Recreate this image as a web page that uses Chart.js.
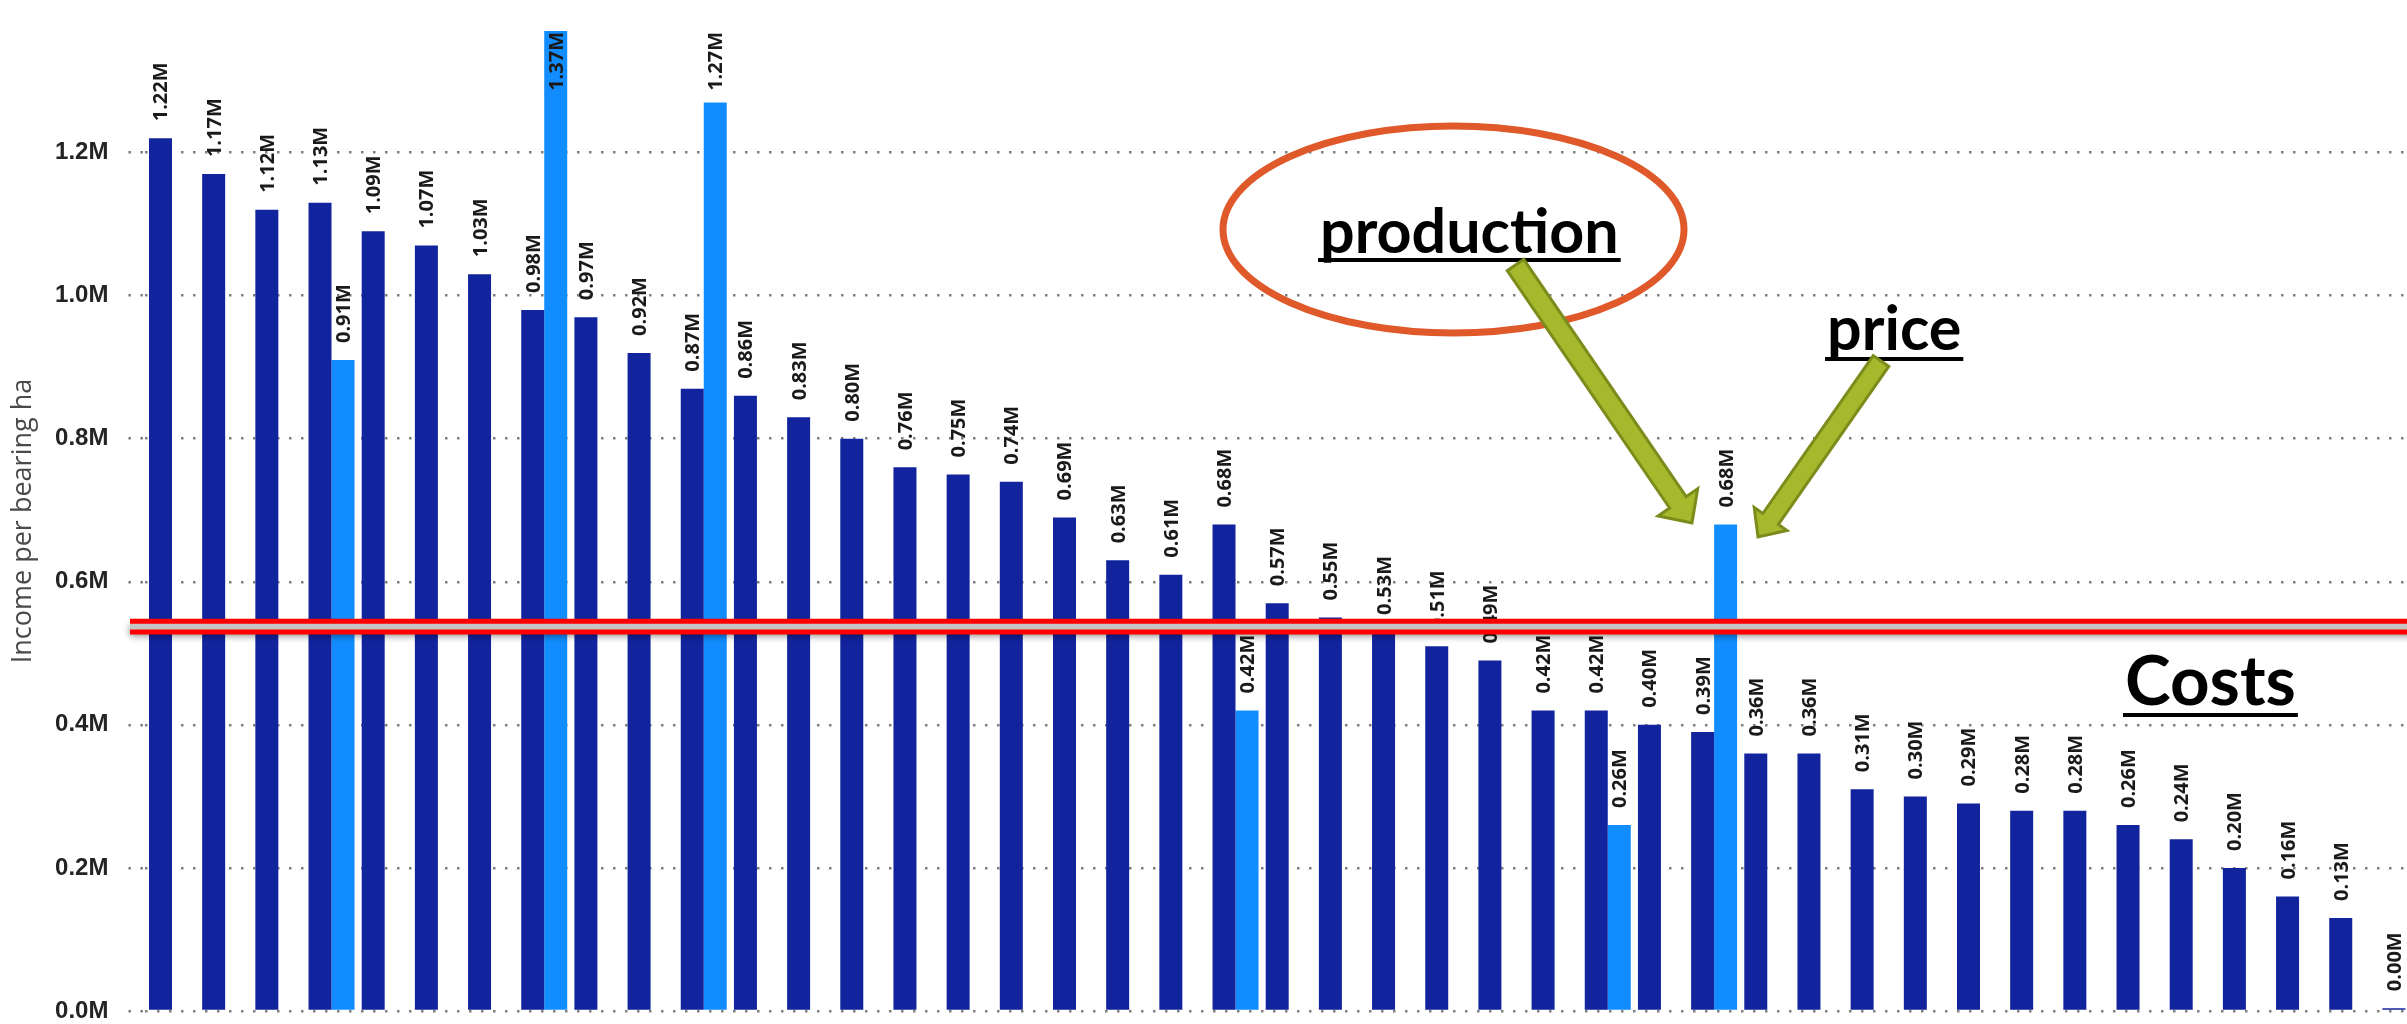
<!DOCTYPE html>
<html lang="en">
<head>
<meta charset="UTF-8">
<title>Income per bearing ha</title>
<script src="https://cdn.jsdelivr.net/npm/chart.js"></script>
<style>
  html, body { margin: 0; padding: 0; background: #fff; overflow: hidden; }
  /* the plot runs a little past the right edge of the screenshot */
  #wrap { position: relative; width: 2432px; height: 1024px; }
</style>
</head>
<body>
<div id="wrap"><canvas id="incomeChart"></canvas></div>
<script>
// income per bearing ha, in millions, farms sorted (names are cut off in the picture)
const income = [1.22, 1.17, 1.12, 1.13, 1.09, 1.07, 1.03, 0.98, 0.97, 0.92,
                0.87, 0.86, 0.83, 0.80, 0.76, 0.75, 0.74, 0.69, 0.63, 0.61,
                0.68, 0.57, 0.55, 0.53, 0.51, 0.49, 0.42, 0.42, 0.40, 0.39,
                0.36, 0.36, 0.31, 0.30, 0.29, 0.28, 0.28, 0.26, 0.24, 0.20,
                0.16, 0.13, 0.004];
// second (light blue) column, only for a few farms
const incomeAlt = [null, null, null, 0.91, null, null, null, 1.37, null, null,
                   1.27, null, null, null, null, null, null, null, null, null,
                   0.42, null, null, null, null, null, null, 0.26, null, 0.68,
                   null, null, null, null, null, null, null, null, null, null,
                   null, null, null];
const farms = income.map((_, i) => 'Farm ' + (i + 1));
const yTicks = [0, 0.2, 0.4, 0.6, 0.8, 1.0, 1.2];
const costBand = [0.530, 0.545]; // the red "Costs" line

const fmtM = v => v.toFixed(2) + 'M';

// value labels, rotated, above each bar (kept inside the plot at the top)
const barLabels = {
  id: 'barLabels',
  afterDatasetsDraw(chart) {
    const { ctx, chartArea } = chart;
    ctx.save();
    ctx.font = 'bold 20px "Open Sans", "Noto Sans", sans-serif';
    ctx.fillStyle = '#1b1a19';
    ctx.textAlign = 'left';
    ctx.textBaseline = 'alphabetic';
    chart.data.datasets.forEach((ds, di) => {
      chart.getDatasetMeta(di).data.forEach((bar, i) => {
        const v = ds.data[i];
        if (v == null) return;
        const txt = fmtM(v);
        const w = ctx.measureText(txt).width;
        let start = bar.y - 17;
        if (start - w < chartArea.top + 1) start = chartArea.top + 1 + w;
        ctx.save();
        ctx.translate(bar.x + 7, start);
        ctx.rotate(-Math.PI / 2);
        ctx.fillText(txt, 0, 0);
        ctx.restore();
      });
    });
    ctx.restore();
  }
};

function blockArrow(ctx, x0, y0, x1, y1, sw, hw, hl) {
  const len = Math.hypot(x1 - x0, y1 - y0);
  const dx = (x1 - x0) / len, dy = (y1 - y0) / len;
  const px = -dy, py = dx;
  const bx = x1 - dx * hl, by = y1 - dy * hl;
  ctx.beginPath();
  ctx.moveTo(x0 + px * sw / 2, y0 + py * sw / 2);
  ctx.lineTo(bx + px * sw / 2, by + py * sw / 2);
  ctx.lineTo(bx + px * hw / 2, by + py * hw / 2);
  ctx.lineTo(x1, y1);
  ctx.lineTo(bx - px * hw / 2, by - py * hw / 2);
  ctx.lineTo(bx - px * sw / 2, by - py * sw / 2);
  ctx.lineTo(x0 - px * sw / 2, y0 - py * sw / 2);
  ctx.closePath();
  ctx.fillStyle = '#a6b82b';
  ctx.fill();
  ctx.lineWidth = 3;
  ctx.strokeStyle = '#7c8c1c';
  ctx.stroke();
}

function underlined(ctx, txt, x, y, size, gap, thick) {
  ctx.font = 'bold ' + size + 'px Lato, "Open Sans", sans-serif';
  ctx.fillStyle = '#000';
  ctx.textAlign = 'left';
  ctx.textBaseline = 'alphabetic';
  ctx.fillText(txt, x, y);
  const w = ctx.measureText(txt).width;
  ctx.fillRect(x - 2, y + gap, w + 4, thick);
}

// slide annotations drawn on top of the chart
const slideNotes = {
  id: 'slideNotes',
  afterDatasetsDraw(chart) {
    const { ctx, scales } = chart;
    const yTop = scales.y.getPixelForValue(costBand[1]);
    const yBot = scales.y.getPixelForValue(costBand[0]);
    ctx.save();
    // costs band
    ctx.shadowColor = 'rgba(0,0,0,0.45)';
    ctx.shadowBlur = 7;
    ctx.shadowOffsetY = 4;
    ctx.fillStyle = '#c4c4c4';
    ctx.fillRect(130, yTop, chart.width - 130, yBot - yTop);
    ctx.shadowColor = 'transparent';
    ctx.lineWidth = 5;
    ctx.strokeStyle = '#ff0000';
    ctx.beginPath();
    ctx.moveTo(130, yTop); ctx.lineTo(chart.width, yTop);
    ctx.moveTo(130, yBot); ctx.lineTo(chart.width, yBot);
    ctx.stroke();

    // ellipse round "production"
    ctx.beginPath();
    ctx.ellipse(1453.5, 229.5, 230.5, 103.5, 0, 0, Math.PI * 2);
    ctx.lineWidth = 7;
    ctx.strokeStyle = '#e0592a';
    ctx.stroke();

    underlined(ctx, 'production', 1320, 253, 61, 5, 4);
    underlined(ctx, 'price', 1827, 350, 61, 7, 4);
    underlined(ctx, 'Costs', 2125, 705, 69, 8, 4);

    blockArrow(ctx, 1515.5, 265, 1692, 523, 20, 48, 25);
    blockArrow(ctx, 1881, 361, 1758, 537, 19, 40, 22);
    ctx.restore();
  }
};

const dots = [2.5, 9.5];

new Chart(document.getElementById('incomeChart'), {
  type: 'bar',
  data: {
    labels: farms,
    datasets: [
      { label: 'Income', data: income, backgroundColor: '#12239e', borderWidth: 0 },
      { label: 'Income (alt)', data: incomeAlt, backgroundColor: '#118dff', borderWidth: 0 }
    ]
  },
  options: {
    responsive: true,
    maintainAspectRatio: false,
    animation: false,
    layout: { padding: { top: 31, bottom: 13, left: 0, right: 0 } },
    datasets: { bar: { categoryPercentage: 0.865, barPercentage: 1 } },
    plugins: { legend: { display: false }, tooltip: { enabled: false } },
    scales: {
      x: { display: false },
      y: {
        min: 0,
        max: 1.37,
        afterFit(scale) {
          scale.width = 145.4;
          // keep the tick padding from pushing the plot in
          scale.paddingTop = 0;
          scale.paddingBottom = 0;
        },
        afterBuildTicks(scale) { scale.ticks = yTicks.map(v => ({ value: v })); },
        border: { display: false, dash: dots },
        grid: {
          color: '#7f7f7f', lineWidth: 2.5,
          drawTicks: true, tickLength: 17, tickColor: '#7f7f7f', tickWidth: 2.5, tickBorderDash: dots
        },
        ticks: {
          padding: 20,
          color: '#252423',
          font: { family: '"Liberation Sans", Arial, sans-serif', weight: 'bold', size: 24, lineHeight: 1 },
          callback: v => v.toFixed(1) + 'M'
        },
        title: {
          display: true,
          text: 'Income per bearing ha',
          color: '#4a4a4a',
          font: { family: '"Open Sans", "Noto Sans", sans-serif', size: 27 },
          padding: { top: 7, bottom: 0 }
        }
      }
    }
  },
  plugins: [barLabels, slideNotes]
});
</script>
</body>
</html>
